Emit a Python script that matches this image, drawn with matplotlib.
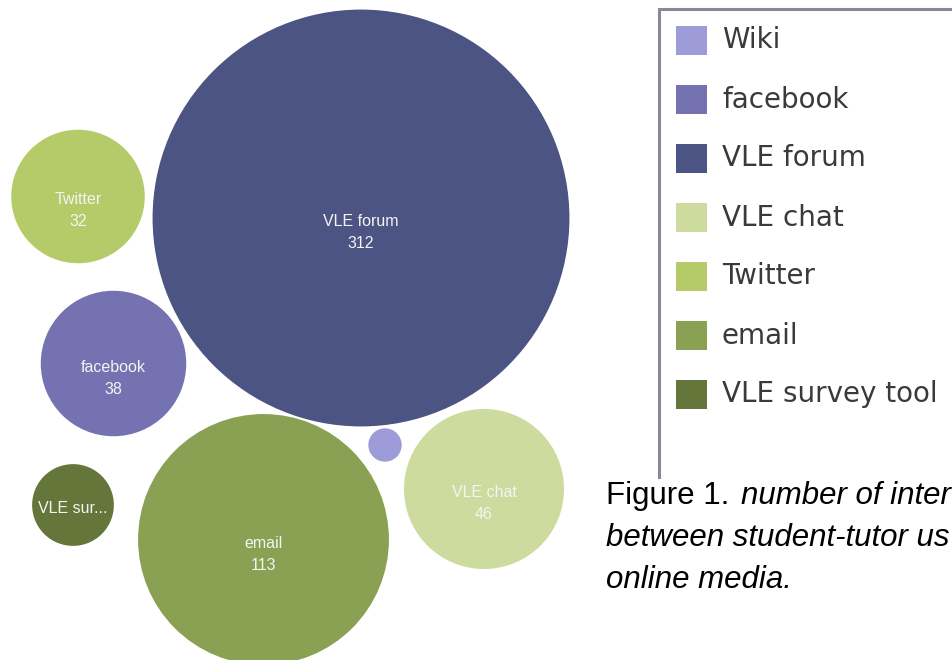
import numpy as np
import matplotlib
matplotlib.use("Agg")
import matplotlib.pyplot as plt
from matplotlib.patches import Circle, Rectangle

# data (legend order)
media = ["Wiki", "facebook", "VLE forum", "VLE chat", "Twitter", "email", "VLE survey tool"]
counts = [2, 38, 312, 46, 32, 113, 12]
colours = ["#9d9cd9", "#7472b0", "#4b5482", "#cddc9e", "#b5cb6a", "#8aa053", "#64763a"]

# caption, as far as it is visible in the source picture
caption_lines = ["number of inter", "between student-tutor us", "online media."]

# bubble layout (pixel positions of the packed circles)
centres = [(385, 445), (113.5, 363.5), (361, 218), (484, 489),
           (78, 196.5), (263.5, 539.5), (73, 505)]
scale = 11.8  # radius = scale * sqrt(count)

fig = plt.figure(figsize=(9.53, 6.60), dpi=100)
ax = fig.add_axes([0, 0, 1, 1])
ax.set_xlim(0, 953)
ax.set_ylim(660, 0)
ax.set_aspect("equal")
ax.axis("off")

lab_font = dict(family="Liberation Sans", fontsize=11.5, color="#f4f4f4",
                ha="center", va="baseline")
for name, n, col, (cx, cy) in zip(media, counts, colours, centres):
    r = scale * np.sqrt(n)
    ax.add_patch(Circle((cx, cy), r, facecolor=col, edgecolor="none"))
    if r < 20:
        continue
    if r < 50:
        ax.text(cx, cy + 8, name[:7] + "...", **lab_font)
    else:
        ax.text(cx, cy + 8, name, **lab_font)
        ax.text(cx, cy + 30, str(n), **lab_font)

# legend box (open to the right and bottom, as cropped in the source)
ax.plot([659, 659, 960], [477, 9, 9], color="#878a94", lw=2.2,
        solid_joinstyle="miter", clip_on=False)
for i, (name, col) in enumerate(zip(media, colours)):
    y = 40.5 + i * 59
    ax.add_patch(Rectangle((676, y - 14.5), 31, 29, facecolor=col, edgecolor="none"))
    ax.text(722, y, name, family="DejaVu Sans", fontsize=20, color="#3a3a3a",
            ha="left", va="center")

# caption
cap = dict(family="Liberation Sans", fontsize=22.5, color="black", va="baseline", ha="left")
ax.text(606, 504, "Figure 1.", **cap)
ax.text(741, 504, caption_lines[0], style="italic", **cap)
ax.text(606, 546, caption_lines[1], style="italic", **cap)
ax.text(606, 588, caption_lines[2], style="italic", **cap)

fig.savefig("out.png", dpi=100)
